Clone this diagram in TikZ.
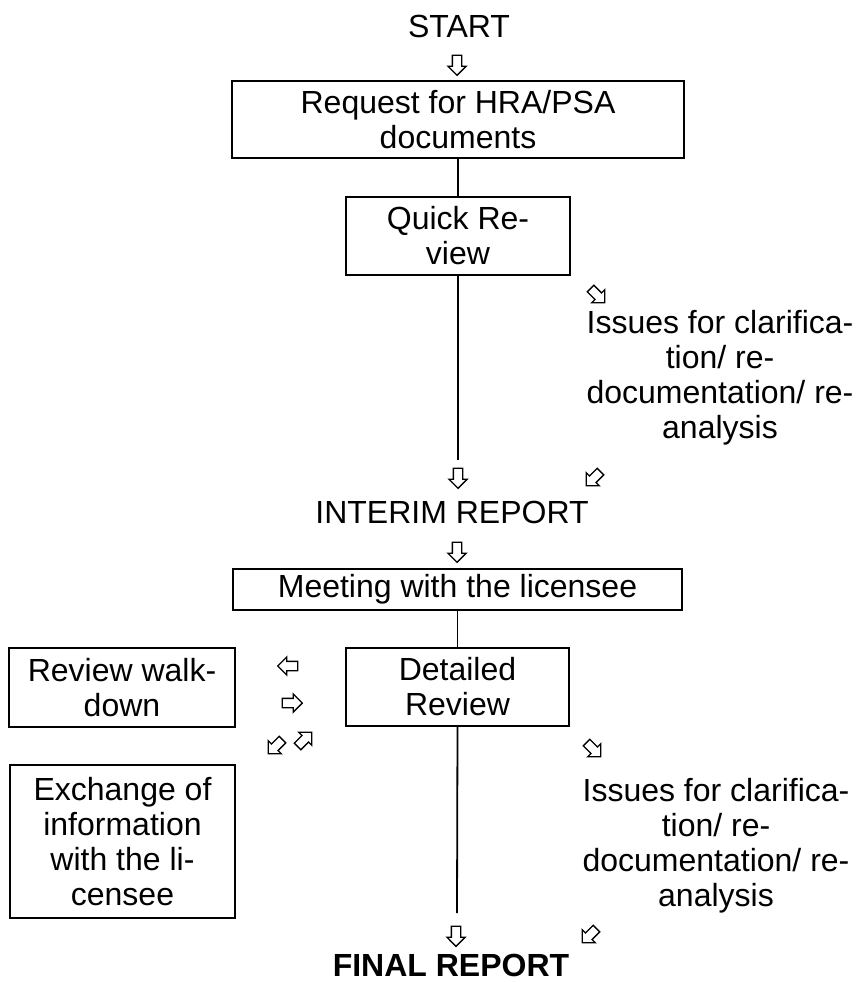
\documentclass[tikz,border=0pt]{standalone}
\usepackage{fontspec}
\setmainfont{Liberation Sans}
\usetikzlibrary{shapes.arrows}
\begin{document}
\begin{tikzpicture}[x=1pt,y=-1pt,
  every node/.style={font=\fontsize{32}{35}\selectfont},
  box/.style={draw, line width=1.8pt, inner sep=0pt, align=center},
  lbl/.style={inner sep=0pt, align=center},
  conn/.style={line width=1.8pt},
  barrow/.style={single arrow, draw, line width=1.3pt, inner sep=0pt,
    minimum height=20pt, single arrow head extend=4.5pt,
    fill=white, font=\tiny}
]
\useasboundingbox (0,0) rectangle (859,982);

\newcommand\shaftrule{\rule{0pt}{8pt}}
\node[lbl] (start) at (459,26) {START};
\node[barrow, rotate=-90] (a1) at (457,63) {\shaftrule};
\node[box, minimum width=452pt, minimum height=77pt] (req) at (458,119.5) {Request for HRA/PSA\\documents};
\node[box, minimum width=224pt, minimum height=78pt] (qr) at (458,236) {Quick Re-\\view};
\coordinate (qrend) at (458,460);
\draw[conn] (req.south) -- (qr.north);
\draw[conn] (qr.south) -- (qrend);
\node[barrow, rotate=-45] (a2) at (596,294) {\shaftrule};
\node[lbl] (iss1) at (720,378) {Issues for clarifica-\\tion/ re-\\documentation/ re-\\analysis};
\node[barrow, rotate=-90] (a3) at (458,476) {\shaftrule};
\node[barrow, rotate=-135] (a4) at (595,477) {\shaftrule};
\node[lbl] (interim) at (452,512) {INTERIM REPORT};
\node[barrow, rotate=-90] (a5) at (457,550) {\shaftrule};
\node[box, minimum width=449pt, minimum height=41pt] (meet) at (457.5,589.5) {Meeting with the licensee};
\node[box, minimum width=223pt, minimum height=78pt] (det) at (457.5,687) {Detailed\\Review};
\draw[conn] (meet.south) -- (det.north);
\node[box, minimum width=226pt, minimum height=79pt] (walk) at (122,687.5) {Review walk-\\down};
\node[barrow, rotate=180] (a6) at (290,666) {\shaftrule};
\node[barrow] (a7) at (290,703) {\shaftrule};
\node[barrow, rotate=-135] (a8) at (277,745) {\shaftrule};
\node[barrow, rotate=45] (a9) at (303,741) {\shaftrule};
\node[box, minimum width=225pt, minimum height=153pt] (exch) at (122.5,841.5) {Exchange of\\information\\with the li-\\censee};
\coordinate (detend) at (457,913);
\draw[conn] (det.south) -- (detend);
\node[barrow, rotate=-45] (a10) at (592,748) {\shaftrule};
\node[lbl] (iss2) at (716,846) {Issues for clarifica-\\tion/ re-\\documentation/ re-\\analysis};
\node[barrow, rotate=-90] (a11) at (456,934) {\shaftrule};
\node[barrow, rotate=-135] (a12) at (591,934) {\shaftrule};
\node[lbl, font=\fontsize{32}{35}\selectfont\bfseries] (final) at (451,965) {FINAL REPORT};
\end{tikzpicture}
\end{document}
